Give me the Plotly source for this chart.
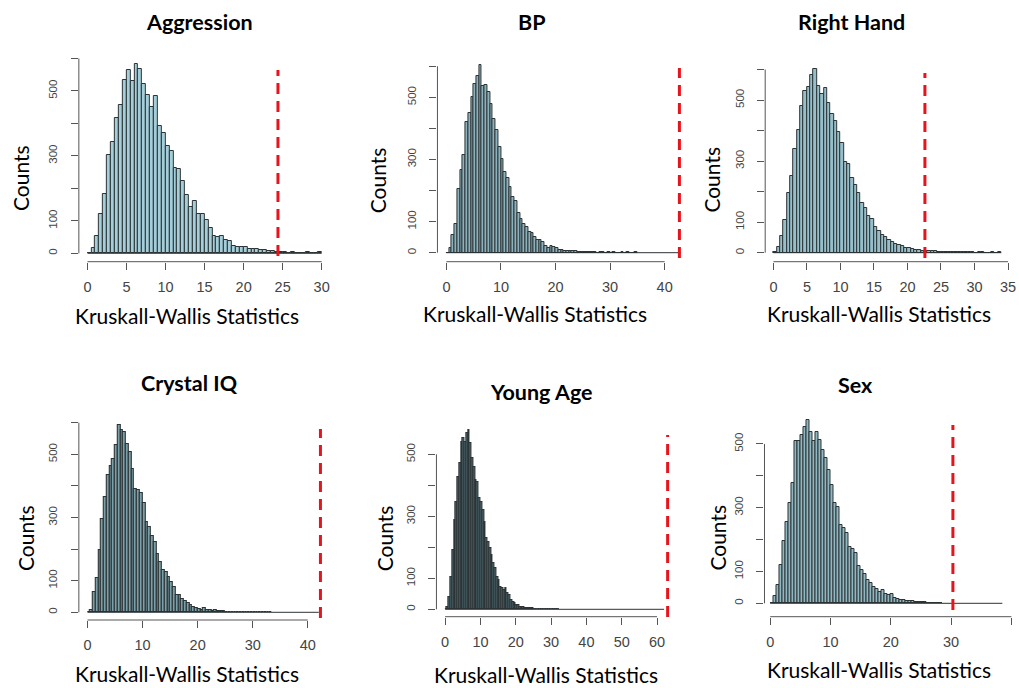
import plotly.graph_objects as go

W, H = 1019, 688

# ---------------- data ----------------
panel_titles = ["Aggression", "BP", "Right Hand", "Crystal IQ", "Young Age", "Sex"]
x_title = "Kruskall-Wallis Statistics"
y_title = "Counts"

bin_width = 0.5
bin_start = [0, 0, 0, 0, 0, 0]
hist_end = [30, 43, 34, 42, 62, 38.5]
observed = [24.4, 42.7, 22.6, 42.3, 63.0, 30.3]

counts_aggression = [2, 17, 53, 120, 182, 303, 342, 418, 456, 533,
                     563, 530, 582, 569, 521, 489, 452, 483, 391, 370,
                     329, 314, 262, 260, 222, 179, 143, 161, 122, 121,
                     102, 79, 52, 50, 52, 40, 38, 23, 20, 20,
                     18, 14, 12, 12, 10, 9, 7, 6, 4, 4,
                     3, 2, 4, 2, 1, 2, 3, 1, 2, 3]

counts_bp = [0, 14, 57, 92, 204, 266, 316, 420, 451, 502,
             542, 570, 605, 536, 540, 518, 478, 431, 395, 341,
             301, 259, 241, 210, 178, 165, 127, 109, 92, 84,
             68, 63, 52, 41, 40, 35, 22, 16, 20, 17,
             14, 10, 8, 7, 6, 5, 5, 4, 3, 3,
             2, 2, 1, 1, 1, 0, 1, 1, 0, 1,
             0, 1, 0, 0, 1, 0, 1, 0, 0, 1]

counts_right_hand = [2, 20, 56, 106, 195, 252, 339, 402, 480, 530,
                     542, 583, 602, 545, 520, 540, 490, 455, 432, 395,
                     360, 296, 290, 245, 222, 195, 164, 148, 120, 112,
                     85, 72, 59, 51, 40, 35, 28, 24, 21, 17,
                     14, 11, 9, 8, 7, 6, 5, 5, 4, 3,
                     3, 2, 2, 2, 1, 2, 1, 1, 1, 1,
                     0, 1, 1, 0, 0, 1, 0, 1]

counts_crystal_iq = [0, 6, 64, 107, 196, 296, 365, 434, 463, 486,
                     531, 594, 576, 571, 534, 507, 455, 389, 386, 379,
                     347, 286, 270, 240, 223, 186, 159, 133, 128, 112,
                     96, 80, 54, 54, 43, 35, 30, 22, 18, 14,
                     11, 7, 14, 8, 6, 5, 7, 4, 3, 3,
                     2, 2, 1, 1, 1, 1, 0, 1, 1, 0,
                     1, 0, 0, 1, 0, 1, 1]

counts_young_age = [0, 9, 41, 105, 191, 288, 347, 428, 471, 541,
                    552, 541, 568, 578, 535, 487, 460, 417, 412, 358,
                    347, 320, 283, 229, 218, 197, 175, 148, 132, 105,
                    95, 73, 68, 62, 68, 52, 46, 30, 25, 19,
                    14, 14, 9, 9, 6, 5, 4, 4, 3, 3,
                    2, 2, 2, 1, 1, 1, 1, 1, 0, 1,
                    1, 0, 1, 0, 1]

counts_sex = [0, 23, 58, 120, 194, 254, 314, 377, 509, 509,
              528, 554, 575, 536, 510, 538, 513, 481, 455, 418,
              371, 314, 303, 246, 235, 220, 178, 169, 159, 117,
              105, 92, 73, 63, 52, 44, 37, 42, 29, 25,
              29, 16, 13, 10, 10, 7, 7, 6, 4, 4,
              4, 3, 2, 2, 1, 1, 1]

all_counts = [counts_aggression, counts_bp, counts_right_hand,
              counts_crystal_iq, counts_young_age, counts_sex]

x_ticks = [[0, 5, 10, 15, 20, 25, 30],
           [0, 10, 20, 30, 40],
           [0, 5, 10, 15, 20, 25, 30, 35],
           [0, 10, 20, 30, 40],
           [0, 10, 20, 30, 40, 50, 60],
           [0, 10, 20, 30, 40]]
y_ticks_600 = [0, 100, 200, 300, 400, 500, 600]
y_labels_600 = ["0", "100", "", "300", "", "500", ""]
y_ticks_500 = [0, 100, 200, 300, 400, 500]
y_labels_500 = ["0", "100", "", "300", "", "500"]
y_ticks = [y_ticks_600, y_ticks_600, y_ticks_600, y_ticks_600, y_ticks_500, y_ticks_500]
y_labels = [y_labels_600, y_labels_600, y_labels_600, y_labels_600, y_labels_500, y_labels_500]

# ---------------- layout (pixel anchors) ----------------
panels = [
    dict(yax=79.0, x0=87.7, sx=7.82, xax=261.7, y0=253.3, sy=0.3247, right=330, top=50,
         title=(200, 22), xlab=(187, 316), ylab=(20, 178), red=(70, 256),
         fill="#a4cfda", lw=1.0),
    dict(yax=438.3, x0=447.3, sx=5.467, xax=261.7, y0=252.7, sy=0.3107, right=686, top=50,
         title=(533, 22), xlab=(536, 314), ylab=(378, 180), red=(68, 258),
         fill="#8cb3bd", lw=1.0),
    dict(yax=766.7, x0=775.0, sx=6.714, xax=261.7, y0=252.7, sy=0.3053, right=1016, top=50,
         title=(853, 22), xlab=(881, 314), ylab=(712, 180), red=(73, 258),
         fill="#96bfca", lw=1.0),
    dict(yax=79.0, x0=87.7, sx=5.517, xax=620.0, y0=612.3, sy=0.316, right=330, top=408,
         title=(190, 383), xlab=(187, 673), ylab=(25, 538), red=(429, 618),
         fill="#7aa0aa", lw=1.1),
    dict(yax=437.3, x0=446.0, sx=3.539, xax=616.7, y0=609.3, sy=0.31, right=676, top=408,
         title=(543, 392), xlab=(547, 674), ylab=(385, 538), red=(435, 617),
         fill="#4d6a71", lw=1.1),
    dict(yax=766.0, x0=771.7, sx=6.042, xax=616.7, y0=603.3, sy=0.3187, right=1019, top=405,
         title=(857, 385), xlab=(881, 669), ylab=(718, 538), red=(425, 610),
         fill="#90b8c3", lw=1.0),
]

edge_color = "#2c3335"
axis_color = "#555555"
tick_font_color = "#444444"
red_color = "#e8141b"

fig = go.Figure()
shapes = []
annotations = []
layout_axes = {}


def py(y):
    return 1 - y / H


for i, p in enumerate(panels):
    n = "" if i == 0 else str(i + 1)
    counts = all_counts[i]
    xs = [bin_start[i] + (k + 0.5) * bin_width for k in range(len(counts))]
    fig.add_trace(go.Bar(
        x=xs, y=counts, width=bin_width,
        marker=dict(color=p["fill"], line=dict(color=edge_color, width=p["lw"])),
        xaxis="x" + n, yaxis="y" + n, showlegend=False, hoverinfo="skip"))

    # data -> paper transforms for this panel
    def xpaper(v, p=p):
        return (p["x0"] + v * p["sx"]) / W

    def ypaper(v, p=p):
        return 1 - (p["y0"] - v * p["sy"]) / H

    xr = [(p["yax"] - p["x0"]) / p["sx"], (p["right"] - p["x0"]) / p["sx"]]
    yr = [(p["y0"] - p["xax"]) / p["sy"], (p["y0"] - p["top"]) / p["sy"]]
    layout_axes["xaxis" + n] = dict(
        domain=[p["yax"] / W, p["right"] / W], range=xr, anchor="y" + n,
        showgrid=False, zeroline=False, showline=False,
        ticks="outside", ticklen=7, tickwidth=1, tickcolor=axis_color,
        tickvals=x_ticks[i], ticktext=[str(v) for v in x_ticks[i]],
        tickfont=dict(family="Liberation Sans", size=14.5, color=tick_font_color),
        ticklabelstandoff=5, fixedrange=True)
    layout_axes["yaxis" + n] = dict(
        domain=[py(p["xax"]), py(p["top"])], range=yr, anchor="x" + n,
        showgrid=False, zeroline=False, showline=False,
        ticks="outside", ticklen=7, tickwidth=1, tickcolor=axis_color,
        tickvals=y_ticks[i], ticktext=y_labels[i], tickangle=-90,
        tickfont=dict(family="Liberation Sans", size=11.5, color=tick_font_color),
        ticklabelstandoff=9, fixedrange=True)

    # R-style axis lines spanning the tick range only
    shapes.append(dict(type="line", xref="paper", yref="paper",
                       x0=p["yax"] / W, x1=p["yax"] / W,
                       y0=ypaper(min(y_ticks[i])), y1=ypaper(max(y_ticks[i])),
                       line=dict(color=axis_color, width=1)))
    shapes.append(dict(type="line", xref="paper", yref="paper",
                       x0=xpaper(min(x_ticks[i])), x1=xpaper(max(x_ticks[i])),
                       y0=py(p["xax"]), y1=py(p["xax"]),
                       line=dict(color=axis_color, width=1)))
    # histogram baseline (empty bins)
    shapes.append(dict(type="line", xref="paper", yref="paper",
                       x0=xpaper(bin_start[i]), x1=xpaper(hist_end[i]),
                       y0=ypaper(0), y1=ypaper(0),
                       line=dict(color=edge_color, width=1)))
    # observed statistic
    shapes.append(dict(type="line", xref="paper", yref="paper",
                       x0=xpaper(observed[i]), x1=xpaper(observed[i]),
                       y0=py(p["red"][1]), y1=py(p["red"][0]),
                       line=dict(color=red_color, width=3, dash="11px,7px")))

    annotations.append(dict(text=panel_titles[i], x=p["title"][0] / W, y=py(p["title"][1]),
                            xref="paper", yref="paper", showarrow=False,
                            xanchor="center", yanchor="middle",
                            font=dict(family="Lato", size=21.5, color="black", weight="bold")))
    annotations.append(dict(text=x_title, x=p["xlab"][0] / W, y=py(p["xlab"][1]),
                            xref="paper", yref="paper", showarrow=False,
                            xanchor="center", yanchor="middle",
                            font=dict(family="Lato", size=21, color="black")))
    annotations.append(dict(text=y_title, x=p["ylab"][0] / W, y=py(p["ylab"][1]),
                            xref="paper", yref="paper", showarrow=False, textangle=-90,
                            xanchor="center", yanchor="middle",
                            font=dict(family="Lato", size=21, color="black")))

fig.update_layout(
    width=W, height=H, margin=dict(l=0, r=0, t=0, b=0),
    paper_bgcolor="white", plot_bgcolor="white",
    bargap=0, shapes=shapes, annotations=annotations,
    **layout_axes)

fig.write_html("out.html", config={"displayModeBar": False})
